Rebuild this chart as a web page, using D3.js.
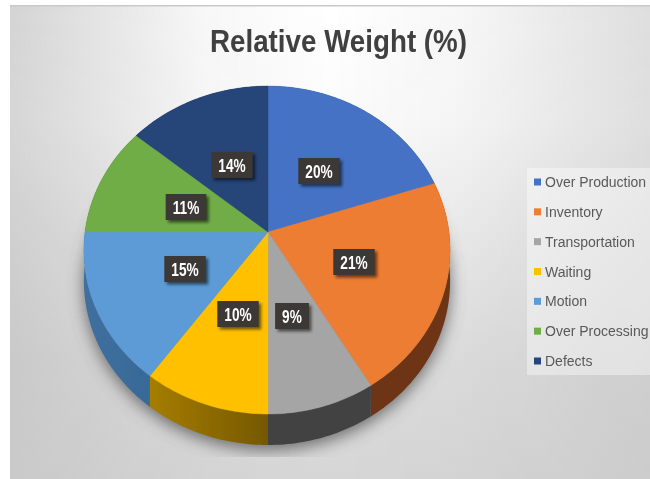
<!DOCTYPE html>
<html>

<head>
    <title>Relative Weight</title>
    <script src="https://d3js.org/d3.v7.min.js"></script>
    <style>
        html, body { margin: 0; padding: 0; background: #fff; }
        svg { display: block; }
        text { font-family: "Liberation Sans", Arial, sans-serif; }
    </style>
</head>

<body>
    <svg width="650" height="479" id="mainSvg"></svg>
    <script>
        const categories = ["Over Production", "Inventory", "Transportation", "Waiting", "Motion", "Over Processing", "Defects"];
        // labels show these rounded
        const values = [20, 21.4, 8.6, 10, 15, 11, 14];
        const colors = ["#4472c4", "#ed7d31", "#a5a5a5", "#ffc000", "#5b9bd5", "#70ad47", "#264478"];
        const sideLeft = ["#29447a", "#6d3412", "#424242", "#a67d00", "#3f6f9e", "#43682b", "#172a49"];
        const sideRight = ["#29447a", "#6d3412", "#424242", "#755800", "#386a98", "#43682b", "#172a49"];

        // label box centres, px from the pie centre (Excel "best fit" spots)
        const labelOffsets = [[51, -61], [86, 30], [24, 84], [-30, 82], [-83, 37], [-82, -25], [-36, -67]];

        const svg = d3.select("#mainSvg");
        const width = +svg.attr("width");
        const height = +svg.attr("height");

        const cx = 268, cy = 232;
        const rxLeft = 183, rxRight = 181, ry = 162, persp = 0.11, depth = 31;

        const defs = svg.append("defs");

        const vert = defs.append("linearGradient").attr("id", "bgVert")
            .attr("x1", 0).attr("y1", 0).attr("x2", 0).attr("y2", 1);
        vert.append("stop").attr("offset", 0).attr("stop-color", "#ffffff");
        vert.append("stop").attr("offset", 0.25).attr("stop-color", "#fbfbfb");
        vert.append("stop").attr("offset", 0.75).attr("stop-color", "#dedede");
        vert.append("stop").attr("offset", 1).attr("stop-color", "#d6d6d6");

        const horiz = defs.append("linearGradient").attr("id", "bgHoriz")
            .attr("x1", 0).attr("y1", 0).attr("x2", 1).attr("y2", 0);
        horiz.append("stop").attr("offset", 0).attr("stop-color", "#000").attr("stop-opacity", 0.17);
        horiz.append("stop").attr("offset", 0.3).attr("stop-color", "#000").attr("stop-opacity", 0.03);
        horiz.append("stop").attr("offset", 0.5).attr("stop-color", "#000").attr("stop-opacity", 0);
        horiz.append("stop").attr("offset", 0.7).attr("stop-color", "#000").attr("stop-opacity", 0.03);
        horiz.append("stop").attr("offset", 1).attr("stop-color", "#000").attr("stop-opacity", 0.13);

        // side darkening fades out towards the bottom of the page
        const fade = defs.append("linearGradient").attr("id", "fadeDown")
            .attr("x1", 0).attr("y1", 0).attr("x2", 0).attr("y2", 1);
        fade.append("stop").attr("offset", 0).attr("stop-color", "#fff");
        fade.append("stop").attr("offset", 0.5).attr("stop-color", "#bbb");
        fade.append("stop").attr("offset", 1).attr("stop-color", "#555");
        defs.append("mask").attr("id", "fadeMask")
            .attr("maskUnits", "userSpaceOnUse")
            .attr("x", 0).attr("y", 0).attr("width", width).attr("height", height)
            .append("rect").attr("x", 0).attr("y", 0).attr("width", width).attr("height", height)
            .attr("fill", "url(#fadeDown)");

        defs.append("filter").attr("id", "soft")
            .append("feGaussianBlur").attr("stdDeviation", 0.5);
        defs.append("filter").attr("id", "pieShadow")
            .attr("x", "-20%").attr("y", "-20%").attr("width", "140%").attr("height", "140%")
            .append("feGaussianBlur").attr("stdDeviation", 8);
        defs.append("filter").attr("id", "boxShadow")
            .attr("x", "-30%").attr("y", "-30%").attr("width", "170%").attr("height", "170%")
            .append("feGaussianBlur").attr("stdDeviation", 1.5);
        defs.append("clipPath").attr("id", "shadowClip")
            .append("rect").attr("x", 10).attr("y", 6).attr("width", 640).attr("height", 451);

        // page
        svg.append("rect").attr("x", 10).attr("y", 6).attr("width", width - 10).attr("height", height - 6)
            .attr("fill", "url(#bgVert)");
        svg.append("rect").attr("x", 10).attr("y", 6).attr("width", width - 10).attr("height", height - 6)
            .attr("fill", "url(#bgHoriz)")
            .attr("mask", "url(#fadeMask)");
        svg.append("rect").attr("x", 10).attr("y", 5).attr("width", width - 10).attr("height", 1.5)
            .attr("fill", "#c9c9c9");

        const chart = svg.append("g").attr("filter", "url(#soft)");

        // tilted disc: angle (0 at top, clockwise) to screen position
        const project = function (a) {
            const u = Math.sin(a), v = -Math.cos(a);
            const d = 1 - persp * v;
            return [cx + (u < 0 ? rxLeft : rxRight) * u / d, cy + ry * v / d];
        };

        const pie = d3.pie().sort(null).value(d => d)
            .startAngle(0).endAngle(2 * Math.PI);
        const slices = pie(values);
        const line = d3.line();

        const rim = function (d) {
            const n = Math.ceil((d.endAngle - d.startAngle) / 0.02);
            return d3.range(n + 1).map(i => project(d.startAngle + (d.endAngle - d.startAngle) * i / n));
        };

        // soft shadow under the whole pie
        const outline = rim({ startAngle: 0, endAngle: 2 * Math.PI });
        chart.append("g").attr("clip-path", "url(#shadowClip)")
            .append("path")
            .attr("d", line(outline.map(p => [p[0], p[1] + depth + 5])) + "Z")
            .attr("fill", "#5a5a5a")
            .attr("fill-opacity", 0.85)
            .attr("filter", "url(#pieShadow)");

        // side wall
        slices.forEach((d, i) => {
            const top = rim(d);
            const xs = d3.extent(top, p => p[0]);
            defs.append("linearGradient").attr("id", "side" + i)
                .attr("gradientUnits", "userSpaceOnUse")
                .attr("x1", xs[0]).attr("x2", xs[1]).attr("y1", 0).attr("y2", 0)
                .call(g => {
                    g.append("stop").attr("offset", 0).attr("stop-color", sideLeft[i]);
                    g.append("stop").attr("offset", 1).attr("stop-color", sideRight[i]);
                });
            const bottom = top.map(p => [p[0], p[1] + depth]).reverse();
            chart.append("path")
                .attr("d", line(top.concat(bottom)) + "Z")
                .attr("fill", `url(#side${i})`);
        });

        // top face
        chart.selectAll(".slice").data(slices).join("path")
            .attr("class", "slice")
            .attr("d", d => line([[cx, cy]].concat(rim(d))) + "Z")
            .attr("fill", (d, i) => colors[i])
            .attr("stroke", (d, i) => colors[i])
            .attr("stroke-width", 0.4);

        // data labels
        const labels = chart.selectAll(".label").data(slices).join("g")
            .attr("class", "label")
            .attr("transform", (d, i) => `translate(${cx + labelOffsets[i][0]},${cy + labelOffsets[i][1]})`);
        const labelText = labels.append("text")
            .attr("text-anchor", "middle")
            .attr("y", 6.5)
            .attr("font-size", 18)
            .attr("font-weight", "bold")
            .attr("fill", "#ffffff")
            .text(d => Math.round(d.value) + "%");
        labelText.each(function () {
            const w = this.getComputedTextLength() * 0.76;
            d3.select(this).attr("textLength", w).attr("lengthAdjust", "spacingAndGlyphs");
            const g = d3.select(this.parentNode);
            g.insert("rect", "text").attr("x", -w / 2 - 7 + 2.5).attr("y", -13 + 2.5)
                .attr("width", w + 14).attr("height", 26)
                .attr("fill", "#000").attr("fill-opacity", 0.55).attr("filter", "url(#boxShadow)");
            g.insert("rect", "text").attr("x", -w / 2 - 7).attr("y", -13)
                .attr("width", w + 14).attr("height", 26)
                .attr("fill", "#3b3836");
        });

        // title
        chart.append("text")
            .attr("x", 338.5).attr("y", 52)
            .attr("text-anchor", "middle")
            .attr("font-size", 32)
            .attr("font-weight", "bold")
            .attr("fill", "#404040")
            .attr("textLength", 257)
            .attr("lengthAdjust", "spacingAndGlyphs")
            .text("Relative Weight (%)");

        // legend
        chart.append("rect").attr("x", 527).attr("y", 168).attr("width", 123).attr("height", 207)
            .attr("fill", "#fff").attr("fill-opacity", 0.4);
        const legendY = d3.scalePoint().domain(categories).range([182, 361]);
        const legend = chart.selectAll(".legendRow").data(categories).join("g")
            .attr("class", "legendRow")
            .attr("transform", d => `translate(534,${legendY(d)})`);
        legend.append("rect").attr("x", 0).attr("y", -3.5).attr("width", 7).attr("height", 7)
            .attr("fill", (d, i) => colors[i]);
        legend.append("text").attr("x", 11).attr("y", 5)
            .attr("font-size", 14)
            .attr("fill", "#595959")
            .text(d => d);
    </script>
</body>

</html>
